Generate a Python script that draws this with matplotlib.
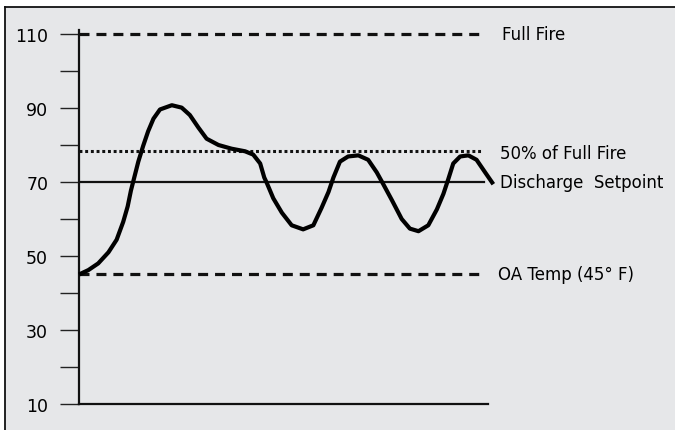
import matplotlib.pyplot as plt
from matplotlib.lines import Line2D
from matplotlib.patches import Rectangle

# Reference levels (deg F)
full_fire = 110
half_fire = 78.5
setpoint = 70
oa_temp = 45

level_labels = ["Full Fire", "50% of Full Fire", "Discharge  Setpoint", "OA Temp (45\u00b0 F)"]

# Discharge temperature curve (time in arbitrary units 0-100)
time = [0, 2.3, 4.7, 7.2, 9.2, 10.8, 11.9, 12.7, 13.3, 14.5, 15.7, 16.9, 18.2, 19.8,
        22.7, 25.1, 27.1, 29.2, 31.2, 34.1, 37.3, 40.6, 42.6, 44.3, 45.3,
        45.9, 47.5, 49.6, 52.0, 54.8, 57.3, 59.3, 61.0, 62.2, 63.8, 65.8, 68.3,
        70.7, 72.8, 74.4, 76.5, 78.9, 80.9, 83.0, 85.4, 87.5, 89.1, 90.3, 91.5,
        93.2, 95.2, 97.2, 99.3, 101.3]
temp = [45, 46.2, 48.0, 51.0, 54.4, 59.2, 63.4, 67.7, 70.3, 75.5, 79.8, 83.7, 87.1, 89.6,
        90.75, 90.1, 88.1, 84.7, 81.7, 80.0, 79.0, 78.3, 77.4, 75.0, 71.2,
        69.8, 65.6, 61.7, 58.3, 57.2, 58.3, 63.0, 67.3, 71.2, 75.5, 76.9, 77.2,
        76.0, 72.6, 69.4, 65.1, 60.0, 57.4, 56.7, 58.3, 62.6, 66.8, 70.8, 75.0,
        76.9, 77.2, 76.0, 72.6, 69.4]

major_ticks = [10, 30, 50, 70, 90, 110]
minor_ticks = [20, 40, 60, 80, 100]

bg = "#e6e7e9"
ink = "#111111"

plt.rcParams["font.family"] = "DejaVu Sans"
plt.rcParams["lines.scale_dashes"] = False

fig = plt.figure(figsize=(6.75, 4.31), dpi=100)
fig.patch.set_facecolor("white")

# grey panel with a dark rule on top and left
fig.patches.append(Rectangle((5 / 675, 0), 1, (431 - 8) / 431, transform=fig.transFigure,
                             facecolor=bg, edgecolor="none", zorder=-10))
fig.lines.append(Line2D([5 / 675, 1], [(431 - 8) / 431] * 2, transform=fig.transFigure,
                        color=ink, lw=1.3))
fig.lines.append(Line2D([5 / 675] * 2, [0, (431 - 8) / 431], transform=fig.transFigure,
                        color=ink, lw=1.3))

ax = fig.add_axes([79 / 675, 26 / 431, 409 / 675, 374 / 431])
ax.set_facecolor("none")
ax.set_xlim(0, 100)
ax.set_ylim(10, 111.08)

# Horizontal reference lines
ax.plot([0, 98.5], [full_fire, full_fire], color=ink, lw=2.3, dashes=(7.2, 5))
ax.plot([0, 98.3], [half_fire, half_fire], color=ink, lw=2.2, dashes=(2.1, 2.0))
ax.plot([0, 99.0], [setpoint, setpoint], color=ink, lw=1.6)
ax.plot([0, 98.5], [oa_temp, oa_temp], color=ink, lw=2.3, dashes=(7.2, 5))

# Discharge temperature curve
ax.plot(time, temp, color="black", lw=3.0, solid_joinstyle="round", solid_capstyle="butt",
        clip_on=False, zorder=5)

# Labels on the right
ax.text(103.4, full_fire, level_labels[0], fontsize=12, va="center", ha="left")
ax.text(102.9, half_fire - 0.6, level_labels[1], fontsize=12, va="center", ha="left")
ax.text(102.9, setpoint, level_labels[2], fontsize=12, va="center", ha="left")
ax.text(102.4, oa_temp, level_labels[3], fontsize=12, va="center", ha="left")

# Axes styling
for side in ["top", "right"]:
    ax.spines[side].set_visible(False)
ax.spines["left"].set_linewidth(1.6)
ax.spines["bottom"].set_linewidth(1.6)
ax.spines["left"].set_color(ink)
ax.spines["bottom"].set_color(ink)

ax.set_xticks([])
ax.set_yticks(major_ticks)
ax.set_yticks(minor_ticks, minor=True)
ax.tick_params(axis="y", which="both", direction="out", length=13.7, width=1.0,
               color="#222222", labelsize=12.5, pad=8.5)

fig.savefig("out.png", dpi=100, facecolor=fig.get_facecolor())
